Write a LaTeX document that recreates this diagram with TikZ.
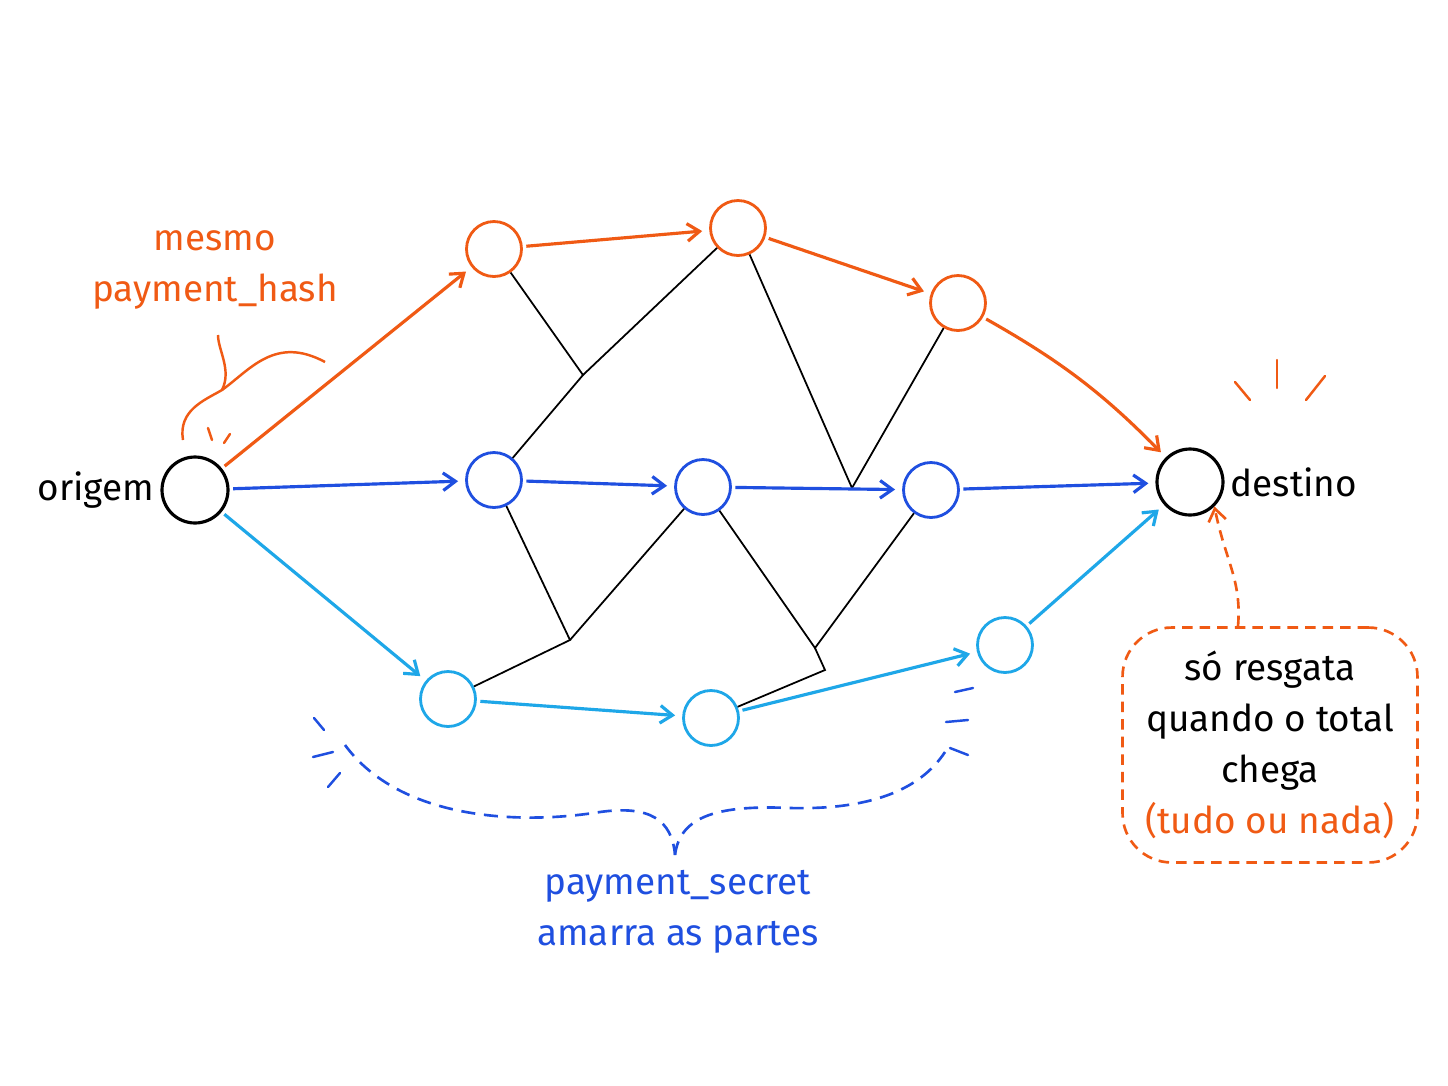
\documentclass[tikz,border=0pt]{standalone}
\usepackage{fontspec}
\setmainfont{Fira Sans}
\usetikzlibrary{arrows.meta,positioning,calc}
\definecolor{orng}{HTML}{F05A14}
\definecolor{blu}{HTML}{1F4FE0}
\definecolor{lblu}{HTML}{1EA7E8}
\begin{document}
\begin{tikzpicture}[x=0.02cm, y=-0.02cm,
    hop/.style={circle, draw, line width=1.6pt, minimum size=1.1cm, inner sep=0pt},
    endp/.style={circle, draw=black, line width=1.8pt, minimum size=1.32cm, inner sep=0pt},
    arr/.style={-{Straight Barb[length=7pt,width=10pt]}, line width=1.8pt, shorten >=4pt, shorten <=2pt},
    mesh/.style={line width=1pt, black},
    lbl/.style={font=\fontsize{21}{29}\selectfont, align=center},
    tick/.style={line width=1.4pt, line cap=round},
  ]
  \useasboundingbox[fill=white] (0,0) rectangle (1448,1086);

  % ===== end points =====
  \node[endp] (src) at (195,490) {};
  \node[endp] (dst) at (1190,482) {};
  \node[lbl, anchor=east] at (src.west) {origem};
  \node[lbl, anchor=west] at (dst.east) {destino};

  % ===== hops =====
  \node[hop, draw=orng] (o1) at (494,249) {};
  \node[hop, draw=orng] (o2) at (738,228) {};
  \node[hop, draw=orng] (o3) at (958,303) {};
  \node[hop, draw=blu] (b1) at (494,480) {};
  \node[hop, draw=blu] (b2) at (703,487) {};
  \node[hop, draw=blu] (b3) at (931,490) {};
  \node[hop, draw=lblu] (c1) at (448,699) {};
  \node[hop, draw=lblu] (c2) at (711,718) {};
  \node[hop, draw=lblu] (c3) at (1005,645) {};

  % ===== background mesh =====
  \coordinate (j1) at (583,375);
  \coordinate (j2) at (852,488);
  \coordinate (j3) at (570,640);
  \coordinate (j4) at (815,648);
  \draw[mesh] (o1) -- (j1) -- (o2);
  \draw[mesh] (j1) -- (b1);
  \draw[mesh] (o2) -- (j2) -- (o3);
  \draw[mesh] (b1) -- (j3) -- (c1);
  \draw[mesh] (j3) -- (b2);
  \draw[mesh] (b2) -- (j4) -- (b3);
  \draw[mesh] (j4) -- (825,670) -- (c2);

  % ===== routes =====
  \draw[arr, orng] (src) -- (o1);
  \draw[arr, orng] (o1) -- (o2);
  \draw[arr, orng] (o2) -- (o3);
  \draw[arr, orng] (o3) to[bend left=8] (dst);
  \draw[arr, blu] (src) -- (b1);
  \draw[arr, blu] (b1) -- (b2);
  \draw[arr, blu] (b2) -- (b3);
  \draw[arr, blu] (b3) -- (dst);
  \draw[arr, lblu] (src) -- (c1);
  \draw[arr, lblu] (c1) -- (c2);
  \draw[arr, lblu] (c2) -- (c3);
  \draw[arr, lblu] (c3) -- (dst);

  % ===== payment_hash note =====
  \node[lbl, text=orng] (hash) at (215,270) {mesmo\\payment\_hash};
  \draw[orng, line width=1.4pt] (183,440) .. controls (178,410) and (205,400) .. (222,390)
      .. controls (232,370) and (218,350) .. (218,335);
  \draw[orng, line width=1.4pt] (222,390) .. controls (250,370) and (275,335) .. (325,362);
  \draw[tick, orng] (208,428) -- (212,440);
  \draw[tick, orng] (230,434) -- (224,443);

  % ===== destino ticks =====
  \draw[tick, orng] (1235,382) -- (1250,400);
  \draw[tick, orng] (1277,360) -- (1277,388);
  \draw[tick, orng] (1325,376) -- (1306,400);

  % ===== payment_secret note =====
  \draw[blu, line width=1.5pt, dash pattern=on 8pt off 5pt]
      (345,745) .. controls (400,820) and (520,825) .. (600,812)
      .. controls (650,805) and (672,820) .. (675,855);
  \draw[blu, line width=1.5pt, dash pattern=on 8pt off 5pt]
      (675,855) .. controls (680,815) and (720,805) .. (790,808)
      .. controls (870,810) and (920,790) .. (945,752);
  \draw[tick, blu] (314,718) -- (324,730);
  \draw[tick, blu] (313,757) -- (333,752);
  \draw[tick, blu] (328,787) -- (340,773);
  \draw[tick, blu] (955,692) -- (973,688);
  \draw[tick, blu] (946,722) -- (968,720);
  \draw[tick, blu] (950,748) -- (968,755);
  \node[lbl, text=blu] (secret) at (678,912) {payment\_secret\\amarra as partes};

  % ===== tudo ou nada note =====
  \node[lbl, draw=orng, line width=1.5pt, dash pattern=on 6pt off 4pt, rounded corners=28pt,
        minimum width=5.9cm, minimum height=4.7cm] (rule) at (1270,745)
        {só resgata\\quando o total\\chega\\\textcolor{orng}{(tudo ou nada)}};
  \draw[orng, line width=1.5pt, dash pattern=on 6pt off 4pt, -{Straight Barb[length=7pt,width=10pt]}]
      (rule.north -| 1238,0) .. controls (1242,580) and (1225,560) .. (dst.south east);
\end{tikzpicture}
\end{document}
